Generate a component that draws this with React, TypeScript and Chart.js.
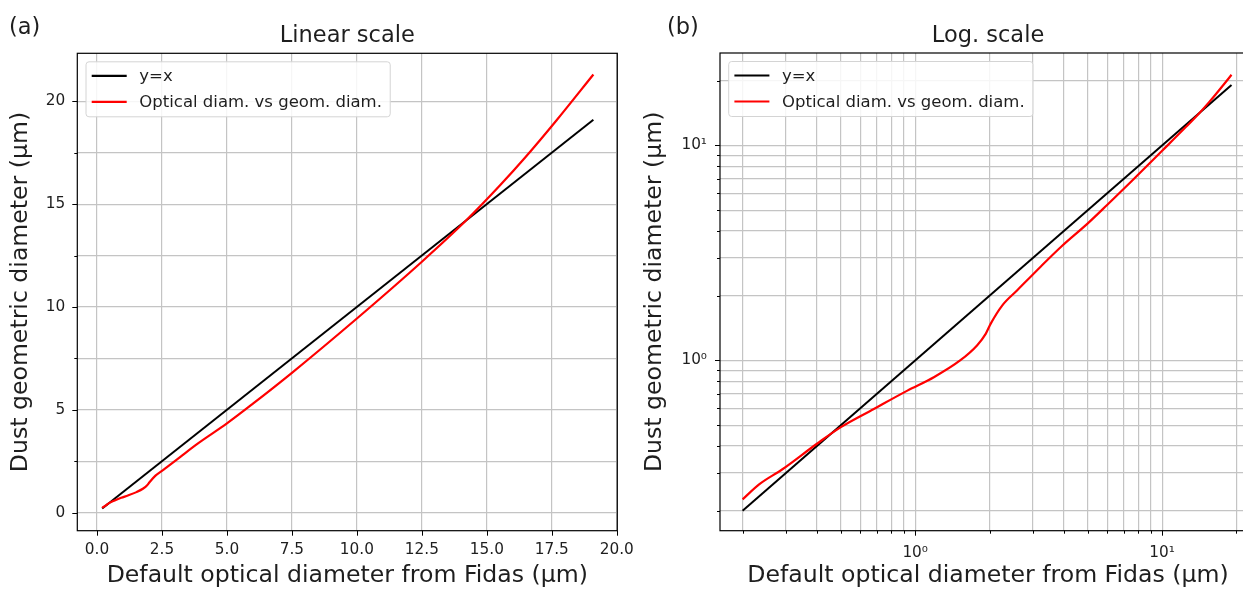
import React, { useEffect, useRef } from 'react';
import { Chart, registerables } from 'chart.js';

Chart.register(...registerables);

// Fidas default optical diameter (µm) and the matching dust geometric diameter (µm)
const opticalDiam = [
  0.2, 0.234, 0.29, 0.4, 0.5, 0.68, 0.93, 1.19, 1.52, 1.78, 1.93, 2.02, 2.25,
  2.59, 3.22, 3.9, 5.0, 6.0, 7.5, 10.0, 12.5, 14.2, 15.5, 16.5, 17.7, 19.1,
];
const geomDiam = [
  0.226, 0.266, 0.312, 0.41, 0.49, 0.595, 0.724, 0.836, 1.0, 1.175, 1.33, 1.48, 1.8,
  2.12, 2.73, 3.38, 4.34, 5.3, 6.8, 9.44, 12.2, 14.2, 15.9, 17.3, 19.1, 21.3,
];

// Reference line y = x over the same optical-diameter range
const identityX = [0.2, 19.1];
const identityY = [0.2, 19.1];

const seriesLabels = ['y=x', 'Optical diam. vs geom. diam.'];
const seriesColors = ['#000000', '#ff0000'];

// Tick positions
const linearTicks = [0, 2.5, 5, 7.5, 10, 12.5, 15, 17.5, 20];
const logTicks = [0.2, 0.3, 0.4, 0.5, 0.6, 0.7, 0.8, 0.9, 1, 2, 3, 4, 5, 6, 7, 8, 9, 10, 20];
const logTickLabels: Record<number, string> = { 1: '10⁰', 10: '10¹' };

const xAxisTitle = 'Default optical diameter from Fidas (µm)';
const yAxisTitle = 'Dust geometric diameter (µm)';

const FONT = 'DejaVu Sans';
const TEXT = '#1e1e1e';
const H = 593;

type PanelSpec = {
  tag: string;
  title: string;
  scale: 'linear' | 'logarithmic';
  left: number;
  width: number;
  areaLeft: number;
  areaRight: number;
  areaTop: number;
  areaBottom: number;
  xMin: number;
  xMax: number;
  yMin: number;
  yMax: number;
  yTitleOffset: number;
  tagX: number;
};

const panels: PanelSpec[] = [
  {
    tag: '(a)', title: 'Linear scale', scale: 'linear',
    left: 0, width: 640,
    areaLeft: 77.3, areaRight: 617.3, areaTop: 53.3, areaBottom: 530.7,
    xMin: -0.758, xMax: 20.02, yMin: -0.875, yMax: 22.33,
    yTitleOffset: 7, tagX: 9,
  },
  {
    tag: '(b)', title: 'Log. scale', scale: 'logarithmic',
    left: 640, width: 620,
    areaLeft: 80, areaRight: 616, areaTop: 53, areaBottom: 530.7,
    xMin: 0.162, xMax: 24, yMin: 0.1616, yMax: 26.9,
    yTitleOffset: 0.3, tagX: 27,
  },
];

function decorations(p: PanelSpec) {
  return {
    id: 'panelDecorations',
    afterDatasetsDraw(chart: any) {
      const { ctx, chartArea: a } = chart;
      const xs = chart.scales.x;
      const ys = chart.scales.y;
      ctx.save();
      // tick marks: long for labelled ticks, short for minor ones
      ctx.strokeStyle = '#000';
      ctx.lineWidth = 1;
      for (const t of xs.ticks) {
        const px = Math.round(xs.getPixelForValue(t.value)) + 0.5;
        const len = t.label ? 5 : 3;
        ctx.beginPath();
        ctx.moveTo(px, a.bottom);
        ctx.lineTo(px, a.bottom + len);
        ctx.stroke();
      }
      for (const t of ys.ticks) {
        const py = Math.round(ys.getPixelForValue(t.value)) + 0.5;
        const len = t.label ? 5 : 3;
        ctx.beginPath();
        ctx.moveTo(a.left - len, py);
        ctx.lineTo(a.left, py);
        ctx.stroke();
      }
      // axes frame
      ctx.lineWidth = 1.2;
      ctx.strokeRect(a.left, a.top, a.right - a.left, a.bottom - a.top);

      // legend box
      ctx.font = `16.5px "${FONT}"`;
      const textW = Math.max(...seriesLabels.map((s) => ctx.measureText(s).width));
      const bx = a.left + 8.7;
      const by = a.top + 8.5;
      const textX = bx + 53.3;
      const bw = textX - bx + textW + 8.3;
      const bh = 55;
      ctx.beginPath();
      if (ctx.roundRect) ctx.roundRect(bx, by, bw, bh, 3);
      else ctx.rect(bx, by, bw, bh);
      ctx.fillStyle = 'rgba(255,255,255,0.85)';
      ctx.fill();
      ctx.strokeStyle = '#d4d4d4';
      ctx.lineWidth = 1;
      ctx.stroke();
      const rows = [by + 14, by + 40];
      seriesLabels.forEach((label, i) => {
        ctx.strokeStyle = seriesColors[i];
        ctx.lineWidth = 2.2;
        ctx.beginPath();
        ctx.moveTo(bx + 5.7, rows[i]);
        ctx.lineTo(bx + 40.7, rows[i]);
        ctx.stroke();
        ctx.fillStyle = TEXT;
        ctx.textAlign = 'left';
        ctx.textBaseline = 'middle';
        ctx.fillText(label, textX, rows[i] + 1);
      });
      ctx.restore();
    },
    afterDraw(chart: any) {
      const { ctx, chartArea: a } = chart;
      ctx.save();
      ctx.fillStyle = TEXT;
      ctx.textBaseline = 'alphabetic';
      ctx.font = `22.5px "${FONT}"`;
      ctx.textAlign = 'center';
      ctx.fillText(p.title, (a.left + a.right) / 2, 42);
      ctx.textAlign = 'left';
      ctx.fillText(p.tag, p.tagX, 34);
      ctx.restore();
    },
  };
}

function buildConfig(p: PanelSpec): any {
  const isLog = p.scale === 'logarithmic';
  const tickFont = { family: FONT, size: 15.3 };
  const titleFont = { family: FONT, size: 23.6 };
  const grid = { color: '#c4c4c4', lineWidth: 1.2, drawTicks: false };
  const setTicks = (values: number[]) => (scale: any) => {
    scale.ticks = values.map((value) => ({ value }));
  };
  const xLabel = (v: any) => (isLog ? logTickLabels[v] ?? '' : Number(v).toFixed(1));
  const yLabel = (v: any) => (isLog ? logTickLabels[v] ?? '' : Number(v) % 5 === 0 ? String(v) : '');

  return {
    type: 'line',
    data: {
      datasets: [
        {
          label: seriesLabels[0],
          data: identityX.map((x, i) => ({ x, y: identityY[i] })),
          borderColor: seriesColors[0],
          borderWidth: 2,
          pointRadius: 0,
          order: 1,
        },
        {
          label: seriesLabels[1],
          data: opticalDiam.map((x, i) => ({ x, y: geomDiam[i] })),
          borderColor: seriesColors[1],
          borderWidth: 2.2,
          pointRadius: 0,
          cubicInterpolationMode: 'monotone',
          order: 0,
        },
      ],
    },
    options: {
      animation: false,
      responsive: false,
      events: [],
      layout: { padding: { top: p.areaTop, right: p.width - p.areaRight, left: 0, bottom: 0 } },
      plugins: { legend: { display: false }, tooltip: { enabled: false } },
      scales: {
        x: {
          type: p.scale,
          min: p.xMin,
          max: p.xMax,
          afterBuildTicks: setTicks(isLog ? logTicks : linearTicks),
          afterFit: (s: any) => {
            s.height = H - p.areaBottom;
            s.paddingLeft = 0;
            s.paddingRight = 0;
          },
          grid,
          border: { display: false },
          ticks: {
            autoSkip: false, maxRotation: 0, minRotation: 0,
            padding: isLog ? 13 : 10, font: tickFont, color: TEXT, callback: xLabel,
          },
          title: { display: true, text: xAxisTitle, font: titleFont, color: TEXT, padding: { top: 0, bottom: 3 } },
        },
        y: {
          type: p.scale,
          min: p.yMin,
          max: p.yMax,
          afterBuildTicks: setTicks(isLog ? logTicks : linearTicks),
          afterFit: (s: any) => {
            s.width = p.areaLeft;
            s.paddingTop = 0;
            s.paddingBottom = 0;
          },
          grid,
          border: { display: false },
          ticks: {
            autoSkip: false, padding: isLog ? 13 : 12, font: tickFont, color: TEXT, callback: yLabel,
          },
          title: { display: true, text: yAxisTitle, font: titleFont, color: TEXT, padding: { top: p.yTitleOffset, bottom: 0 } },
        },
      },
    },
    plugins: [decorations(p)],
  };
}

function Panel({ spec }: { spec: PanelSpec }) {
  const ref = useRef<HTMLCanvasElement>(null);
  useEffect(() => {
    const chart = new Chart(ref.current as HTMLCanvasElement, buildConfig(spec));
    return () => chart.destroy();
  }, [spec]);
  return (
    <canvas
      ref={ref}
      width={spec.width}
      height={H}
      style={{ position: 'absolute', left: spec.left, top: 0, width: spec.width, height: H, display: 'block' }}
    />
  );
}

export default function App() {
  return (
    <div
      style={{
        position: 'fixed', left: 0, top: 0, width: 1243, height: H,
        overflow: 'hidden', background: '#ffffff',
      }}
    >
      {panels.map((p) => (
        <Panel key={p.tag} spec={p} />
      ))}
    </div>
  );
}
